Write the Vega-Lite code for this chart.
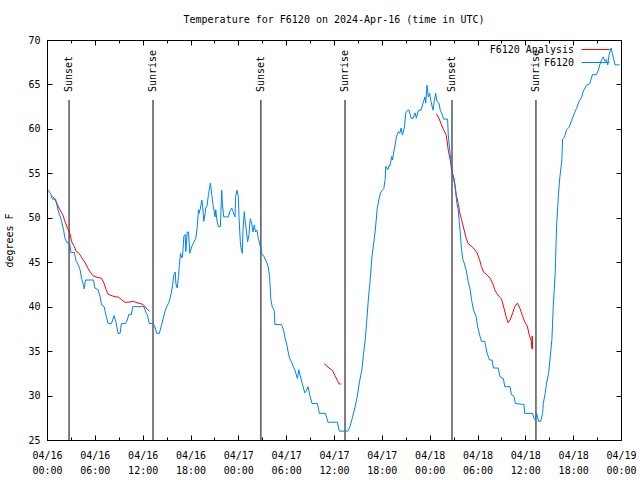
{
  "$schema": "https://vega.github.io/schema/vega-lite/v6.json",
  "width": 574,
  "height": 400,
  "autosize": {"type": "none"},
  "padding": {"left": 47, "top": 40, "right": 19, "bottom": 40},
  "background": "white",
  "config": {
    "view": {"stroke": "black", "strokeWidth": 1},
    "font": "DejaVu Sans Mono",
    "axis": {"labelFont": "DejaVu Sans Mono", "labelFontSize": 10, "labelColor": "black", "tickColor": "black", "domain": false, "grid": false, "titleFont": "DejaVu Sans Mono", "titleFontSize": 10, "titleFontWeight": "normal", "titleColor": "black"}
  },
  "title": {"text": "Temperature for F6120 on 2024-Apr-16 (time in UTC)", "font": "DejaVu Sans Mono", "fontSize": 10, "fontWeight": "normal", "color": "black", "anchor": "middle", "offset": 10},
  "datasets": {
    "sun": [
      {"event": "Sunset", "time": "2024-04-16T02:46:00Z"},
      {"event": "Sunrise", "time": "2024-04-16T13:18:00Z"},
      {"event": "Sunset", "time": "2024-04-17T02:50:00Z"},
      {"event": "Sunrise", "time": "2024-04-17T13:23:00Z"},
      {"event": "Sunset", "time": "2024-04-18T02:48:00Z"},
      {"event": "Sunrise", "time": "2024-04-18T13:20:00Z"}
    ],
    "analysis": [
      {"series": "F6120 Analysis", "seg": "a1", "time": "2024-04-16T00:40:00Z", "temp": 52.4},
      {"series": "F6120 Analysis", "seg": "a1", "time": "2024-04-16T00:55:00Z", "temp": 52.2},
      {"series": "F6120 Analysis", "seg": "a1", "time": "2024-04-16T01:15:00Z", "temp": 51.6},
      {"series": "F6120 Analysis", "seg": "a1", "time": "2024-04-16T01:30:00Z", "temp": 51.1},
      {"series": "F6120 Analysis", "seg": "a1", "time": "2024-04-16T01:45:00Z", "temp": 50.7},
      {"series": "F6120 Analysis", "seg": "a1", "time": "2024-04-16T02:00:00Z", "temp": 50.3},
      {"series": "F6120 Analysis", "seg": "a1", "time": "2024-04-16T02:15:00Z", "temp": 49.6},
      {"series": "F6120 Analysis", "seg": "a1", "time": "2024-04-16T02:35:00Z", "temp": 48.8},
      {"series": "F6120 Analysis", "seg": "a1", "time": "2024-04-16T02:55:00Z", "temp": 48.1},
      {"series": "F6120 Analysis", "seg": "a1", "time": "2024-04-16T03:05:00Z", "temp": 47.3},
      {"series": "F6120 Analysis", "seg": "a1", "time": "2024-04-16T03:25:00Z", "temp": 46.8},
      {"series": "F6120 Analysis", "seg": "a1", "time": "2024-04-16T03:40:00Z", "temp": 46.2},
      {"series": "F6120 Analysis", "seg": "a1", "time": "2024-04-16T03:55:00Z", "temp": 46.1},
      {"series": "F6120 Analysis", "seg": "a1", "time": "2024-04-16T04:10:00Z", "temp": 45.8},
      {"series": "F6120 Analysis", "seg": "a1", "time": "2024-04-16T04:30:00Z", "temp": 45.3},
      {"series": "F6120 Analysis", "seg": "a1", "time": "2024-04-16T04:45:00Z", "temp": 45.0},
      {"series": "F6120 Analysis", "seg": "a1", "time": "2024-04-16T05:05:00Z", "temp": 44.4},
      {"series": "F6120 Analysis", "seg": "a1", "time": "2024-04-16T05:25:00Z", "temp": 43.9},
      {"series": "F6120 Analysis", "seg": "a1", "time": "2024-04-16T05:45:00Z", "temp": 43.5},
      {"series": "F6120 Analysis", "seg": "a1", "time": "2024-04-16T06:15:00Z", "temp": 43.3},
      {"series": "F6120 Analysis", "seg": "a1", "time": "2024-04-16T06:50:00Z", "temp": 43.2},
      {"series": "F6120 Analysis", "seg": "a1", "time": "2024-04-16T07:10:00Z", "temp": 42.6},
      {"series": "F6120 Analysis", "seg": "a1", "time": "2024-04-16T07:25:00Z", "temp": 41.9},
      {"series": "F6120 Analysis", "seg": "a1", "time": "2024-04-16T07:40:00Z", "temp": 41.4},
      {"series": "F6120 Analysis", "seg": "a1", "time": "2024-04-16T08:15:00Z", "temp": 41.2},
      {"series": "F6120 Analysis", "seg": "a1", "time": "2024-04-16T08:40:00Z", "temp": 41.1},
      {"series": "F6120 Analysis", "seg": "a1", "time": "2024-04-16T08:55:00Z", "temp": 41.1},
      {"series": "F6120 Analysis", "seg": "a1", "time": "2024-04-16T09:20:00Z", "temp": 40.8},
      {"series": "F6120 Analysis", "seg": "a1", "time": "2024-04-16T09:45:00Z", "temp": 40.5},
      {"series": "F6120 Analysis", "seg": "a1", "time": "2024-04-16T10:10:00Z", "temp": 40.5},
      {"series": "F6120 Analysis", "seg": "a1", "time": "2024-04-16T10:50:00Z", "temp": 40.6},
      {"series": "F6120 Analysis", "seg": "a1", "time": "2024-04-16T11:25:00Z", "temp": 40.4},
      {"series": "F6120 Analysis", "seg": "a1", "time": "2024-04-16T11:55:00Z", "temp": 40.3},
      {"series": "F6120 Analysis", "seg": "a1", "time": "2024-04-16T12:20:00Z", "temp": 40.0},
      {"series": "F6120 Analysis", "seg": "a1", "time": "2024-04-16T12:35:00Z", "temp": 39.7},
      {"series": "F6120 Analysis", "seg": "a1", "time": "2024-04-16T12:50:00Z", "temp": 39.5},
      {"series": "F6120 Analysis", "seg": "a2", "time": "2024-04-17T10:45:00Z", "temp": 33.6},
      {"series": "F6120 Analysis", "seg": "a2", "time": "2024-04-17T11:15:00Z", "temp": 33.2},
      {"series": "F6120 Analysis", "seg": "a2", "time": "2024-04-17T11:50:00Z", "temp": 32.8},
      {"series": "F6120 Analysis", "seg": "a2", "time": "2024-04-17T12:05:00Z", "temp": 32.3},
      {"series": "F6120 Analysis", "seg": "a2", "time": "2024-04-17T12:25:00Z", "temp": 31.7},
      {"series": "F6120 Analysis", "seg": "a2", "time": "2024-04-17T12:40:00Z", "temp": 31.3},
      {"series": "F6120 Analysis", "seg": "a2", "time": "2024-04-17T12:55:00Z", "temp": 31.3},
      {"series": "F6120 Analysis", "seg": "a3", "time": "2024-04-18T00:50:00Z", "temp": 61.7},
      {"series": "F6120 Analysis", "seg": "a3", "time": "2024-04-18T01:10:00Z", "temp": 61.2},
      {"series": "F6120 Analysis", "seg": "a3", "time": "2024-04-18T01:25:00Z", "temp": 60.6},
      {"series": "F6120 Analysis", "seg": "a3", "time": "2024-04-18T01:45:00Z", "temp": 59.9},
      {"series": "F6120 Analysis", "seg": "a3", "time": "2024-04-18T02:05:00Z", "temp": 59.3},
      {"series": "F6120 Analysis", "seg": "a3", "time": "2024-04-18T02:20:00Z", "temp": 57.6},
      {"series": "F6120 Analysis", "seg": "a3", "time": "2024-04-18T02:35:00Z", "temp": 56.5},
      {"series": "F6120 Analysis", "seg": "a3", "time": "2024-04-18T02:45:00Z", "temp": 55.4},
      {"series": "F6120 Analysis", "seg": "a3", "time": "2024-04-18T03:05:00Z", "temp": 54.3},
      {"series": "F6120 Analysis", "seg": "a3", "time": "2024-04-18T03:20:00Z", "temp": 52.6},
      {"series": "F6120 Analysis", "seg": "a3", "time": "2024-04-18T03:35:00Z", "temp": 51.6},
      {"series": "F6120 Analysis", "seg": "a3", "time": "2024-04-18T03:50:00Z", "temp": 50.3},
      {"series": "F6120 Analysis", "seg": "a3", "time": "2024-04-18T04:00:00Z", "temp": 49.8},
      {"series": "F6120 Analysis", "seg": "a3", "time": "2024-04-18T04:20:00Z", "temp": 48.6},
      {"series": "F6120 Analysis", "seg": "a3", "time": "2024-04-18T04:35:00Z", "temp": 47.7},
      {"series": "F6120 Analysis", "seg": "a3", "time": "2024-04-18T04:50:00Z", "temp": 47.1},
      {"series": "F6120 Analysis", "seg": "a3", "time": "2024-04-18T05:30:00Z", "temp": 46.6},
      {"series": "F6120 Analysis", "seg": "a3", "time": "2024-04-18T05:55:00Z", "temp": 46.1},
      {"series": "F6120 Analysis", "seg": "a3", "time": "2024-04-18T06:15:00Z", "temp": 45.3},
      {"series": "F6120 Analysis", "seg": "a3", "time": "2024-04-18T06:30:00Z", "temp": 44.5},
      {"series": "F6120 Analysis", "seg": "a3", "time": "2024-04-18T06:45:00Z", "temp": 43.9},
      {"series": "F6120 Analysis", "seg": "a3", "time": "2024-04-18T07:10:00Z", "temp": 43.6},
      {"series": "F6120 Analysis", "seg": "a3", "time": "2024-04-18T07:35:00Z", "temp": 43.2},
      {"series": "F6120 Analysis", "seg": "a3", "time": "2024-04-18T07:55:00Z", "temp": 42.6},
      {"series": "F6120 Analysis", "seg": "a3", "time": "2024-04-18T08:10:00Z", "temp": 41.9},
      {"series": "F6120 Analysis", "seg": "a3", "time": "2024-04-18T08:25:00Z", "temp": 41.5},
      {"series": "F6120 Analysis", "seg": "a3", "time": "2024-04-18T08:45:00Z", "temp": 41.1},
      {"series": "F6120 Analysis", "seg": "a3", "time": "2024-04-18T09:00:00Z", "temp": 40.9},
      {"series": "F6120 Analysis", "seg": "a3", "time": "2024-04-18T09:20:00Z", "temp": 39.8},
      {"series": "F6120 Analysis", "seg": "a3", "time": "2024-04-18T09:35:00Z", "temp": 38.9},
      {"series": "F6120 Analysis", "seg": "a3", "time": "2024-04-18T09:50:00Z", "temp": 38.2},
      {"series": "F6120 Analysis", "seg": "a3", "time": "2024-04-18T10:05:00Z", "temp": 38.5},
      {"series": "F6120 Analysis", "seg": "a3", "time": "2024-04-18T10:25:00Z", "temp": 39.3},
      {"series": "F6120 Analysis", "seg": "a3", "time": "2024-04-18T10:40:00Z", "temp": 40.0},
      {"series": "F6120 Analysis", "seg": "a3", "time": "2024-04-18T11:00:00Z", "temp": 40.4},
      {"series": "F6120 Analysis", "seg": "a3", "time": "2024-04-18T11:20:00Z", "temp": 39.8},
      {"series": "F6120 Analysis", "seg": "a3", "time": "2024-04-18T11:40:00Z", "temp": 38.9},
      {"series": "F6120 Analysis", "seg": "a3", "time": "2024-04-18T11:55:00Z", "temp": 38.3},
      {"series": "F6120 Analysis", "seg": "a3", "time": "2024-04-18T12:15:00Z", "temp": 37.8},
      {"series": "F6120 Analysis", "seg": "a3", "time": "2024-04-18T12:30:00Z", "temp": 36.8},
      {"series": "F6120 Analysis", "seg": "a3", "time": "2024-04-18T12:45:00Z", "temp": 36.1},
      {"series": "F6120 Analysis", "seg": "a3", "time": "2024-04-18T12:50:00Z", "temp": 35.3},
      {"series": "F6120 Analysis", "seg": "a3", "time": "2024-04-18T12:52:00Z", "temp": 36.7},
      {"series": "F6120 Analysis", "seg": "a3", "time": "2024-04-18T12:55:00Z", "temp": 35.2}
    ],
    "obs": [
      {"series": "F6120", "time": "2024-04-16T00:10:00Z", "temp": 53.1},
      {"series": "F6120", "time": "2024-04-16T00:30:00Z", "temp": 52.6},
      {"series": "F6120", "time": "2024-04-16T00:40:00Z", "temp": 52.1},
      {"series": "F6120", "time": "2024-04-16T01:05:00Z", "temp": 52.1},
      {"series": "F6120", "time": "2024-04-16T01:15:00Z", "temp": 51.4},
      {"series": "F6120", "time": "2024-04-16T01:30:00Z", "temp": 50.5},
      {"series": "F6120", "time": "2024-04-16T01:40:00Z", "temp": 50.1},
      {"series": "F6120", "time": "2024-04-16T01:50:00Z", "temp": 49.6},
      {"series": "F6120", "time": "2024-04-16T02:05:00Z", "temp": 48.6},
      {"series": "F6120", "time": "2024-04-16T02:15:00Z", "temp": 47.7},
      {"series": "F6120", "time": "2024-04-16T02:30:00Z", "temp": 47.2},
      {"series": "F6120", "time": "2024-04-16T02:50:00Z", "temp": 47.2},
      {"series": "F6120", "time": "2024-04-16T03:00:00Z", "temp": 46.1},
      {"series": "F6120", "time": "2024-04-16T03:25:00Z", "temp": 46.1},
      {"series": "F6120", "time": "2024-04-16T03:40:00Z", "temp": 45.1},
      {"series": "F6120", "time": "2024-04-16T03:55:00Z", "temp": 44.7},
      {"series": "F6120", "time": "2024-04-16T04:10:00Z", "temp": 44.1},
      {"series": "F6120", "time": "2024-04-16T04:20:00Z", "temp": 43.2},
      {"series": "F6120", "time": "2024-04-16T04:35:00Z", "temp": 42.4},
      {"series": "F6120", "time": "2024-04-16T04:40:00Z", "temp": 42.0},
      {"series": "F6120", "time": "2024-04-16T04:50:00Z", "temp": 43.0},
      {"series": "F6120", "time": "2024-04-16T05:50:00Z", "temp": 43.0},
      {"series": "F6120", "time": "2024-04-16T06:00:00Z", "temp": 42.1},
      {"series": "F6120", "time": "2024-04-16T06:25:00Z", "temp": 41.9},
      {"series": "F6120", "time": "2024-04-16T06:40:00Z", "temp": 41.1},
      {"series": "F6120", "time": "2024-04-16T06:50:00Z", "temp": 40.2},
      {"series": "F6120", "time": "2024-04-16T07:10:00Z", "temp": 40.0},
      {"series": "F6120", "time": "2024-04-16T07:20:00Z", "temp": 39.3},
      {"series": "F6120", "time": "2024-04-16T07:40:00Z", "temp": 38.1},
      {"series": "F6120", "time": "2024-04-16T08:05:00Z", "temp": 38.1},
      {"series": "F6120", "time": "2024-04-16T08:25:00Z", "temp": 39.0},
      {"series": "F6120", "time": "2024-04-16T08:40:00Z", "temp": 38.2},
      {"series": "F6120", "time": "2024-04-16T08:55:00Z", "temp": 37.0},
      {"series": "F6120", "time": "2024-04-16T09:10:00Z", "temp": 37.0},
      {"series": "F6120", "time": "2024-04-16T09:20:00Z", "temp": 38.1},
      {"series": "F6120", "time": "2024-04-16T09:50:00Z", "temp": 38.1},
      {"series": "F6120", "time": "2024-04-16T10:05:00Z", "temp": 38.5},
      {"series": "F6120", "time": "2024-04-16T10:15:00Z", "temp": 39.1},
      {"series": "F6120", "time": "2024-04-16T10:35:00Z", "temp": 39.1},
      {"series": "F6120", "time": "2024-04-16T10:45:00Z", "temp": 40.0},
      {"series": "F6120", "time": "2024-04-16T12:10:00Z", "temp": 40.0},
      {"series": "F6120", "time": "2024-04-16T12:25:00Z", "temp": 39.3},
      {"series": "F6120", "time": "2024-04-16T12:35:00Z", "temp": 39.1},
      {"series": "F6120", "time": "2024-04-16T12:50:00Z", "temp": 38.1},
      {"series": "F6120", "time": "2024-04-16T13:20:00Z", "temp": 38.1},
      {"series": "F6120", "time": "2024-04-16T13:35:00Z", "temp": 37.6},
      {"series": "F6120", "time": "2024-04-16T13:45:00Z", "temp": 37.0},
      {"series": "F6120", "time": "2024-04-16T14:05:00Z", "temp": 37.0},
      {"series": "F6120", "time": "2024-04-16T14:20:00Z", "temp": 37.8},
      {"series": "F6120", "time": "2024-04-16T14:35:00Z", "temp": 38.7},
      {"series": "F6120", "time": "2024-04-16T14:50:00Z", "temp": 39.6},
      {"series": "F6120", "time": "2024-04-16T15:05:00Z", "temp": 40.1},
      {"series": "F6120", "time": "2024-04-16T15:20:00Z", "temp": 40.6},
      {"series": "F6120", "time": "2024-04-16T15:35:00Z", "temp": 41.5},
      {"series": "F6120", "time": "2024-04-16T15:45:00Z", "temp": 42.4},
      {"series": "F6120", "time": "2024-04-16T15:55:00Z", "temp": 43.6},
      {"series": "F6120", "time": "2024-04-16T16:05:00Z", "temp": 43.9},
      {"series": "F6120", "time": "2024-04-16T16:10:00Z", "temp": 42.6},
      {"series": "F6120", "time": "2024-04-16T16:20:00Z", "temp": 42.1},
      {"series": "F6120", "time": "2024-04-16T16:30:00Z", "temp": 43.4},
      {"series": "F6120", "time": "2024-04-16T16:35:00Z", "temp": 44.5},
      {"series": "F6120", "time": "2024-04-16T16:45:00Z", "temp": 46.0},
      {"series": "F6120", "time": "2024-04-16T16:55:00Z", "temp": 45.5},
      {"series": "F6120", "time": "2024-04-16T17:00:00Z", "temp": 45.6},
      {"series": "F6120", "time": "2024-04-16T17:10:00Z", "temp": 47.9},
      {"series": "F6120", "time": "2024-04-16T17:20:00Z", "temp": 48.1},
      {"series": "F6120", "time": "2024-04-16T17:25:00Z", "temp": 46.2},
      {"series": "F6120", "time": "2024-04-16T17:35:00Z", "temp": 48.4},
      {"series": "F6120", "time": "2024-04-16T17:45:00Z", "temp": 48.4},
      {"series": "F6120", "time": "2024-04-16T17:55:00Z", "temp": 46.0},
      {"series": "F6120", "time": "2024-04-16T18:10:00Z", "temp": 46.8},
      {"series": "F6120", "time": "2024-04-16T18:20:00Z", "temp": 47.1},
      {"series": "F6120", "time": "2024-04-16T18:40:00Z", "temp": 47.7},
      {"series": "F6120", "time": "2024-04-16T18:50:00Z", "temp": 48.8},
      {"series": "F6120", "time": "2024-04-16T19:00:00Z", "temp": 50.9},
      {"series": "F6120", "time": "2024-04-16T19:05:00Z", "temp": 50.5},
      {"series": "F6120", "time": "2024-04-16T19:15:00Z", "temp": 51.1},
      {"series": "F6120", "time": "2024-04-16T19:25:00Z", "temp": 52.0},
      {"series": "F6120", "time": "2024-04-16T19:30:00Z", "temp": 51.6},
      {"series": "F6120", "time": "2024-04-16T19:40:00Z", "temp": 49.6},
      {"series": "F6120", "time": "2024-04-16T19:50:00Z", "temp": 50.5},
      {"series": "F6120", "time": "2024-04-16T19:55:00Z", "temp": 51.1},
      {"series": "F6120", "time": "2024-04-16T20:05:00Z", "temp": 51.4},
      {"series": "F6120", "time": "2024-04-16T20:15:00Z", "temp": 52.6},
      {"series": "F6120", "time": "2024-04-16T20:25:00Z", "temp": 53.5},
      {"series": "F6120", "time": "2024-04-16T20:30:00Z", "temp": 53.9},
      {"series": "F6120", "time": "2024-04-16T20:40:00Z", "temp": 52.6},
      {"series": "F6120", "time": "2024-04-16T20:50:00Z", "temp": 51.4},
      {"series": "F6120", "time": "2024-04-16T21:05:00Z", "temp": 50.1},
      {"series": "F6120", "time": "2024-04-16T21:10:00Z", "temp": 50.9},
      {"series": "F6120", "time": "2024-04-16T21:20:00Z", "temp": 49.6},
      {"series": "F6120", "time": "2024-04-16T21:30:00Z", "temp": 49.0},
      {"series": "F6120", "time": "2024-04-16T21:45:00Z", "temp": 49.0},
      {"series": "F6120", "time": "2024-04-16T21:55:00Z", "temp": 53.1},
      {"series": "F6120", "time": "2024-04-16T22:00:00Z", "temp": 51.6},
      {"series": "F6120", "time": "2024-04-16T22:10:00Z", "temp": 50.1},
      {"series": "F6120", "time": "2024-04-16T22:45:00Z", "temp": 50.1},
      {"series": "F6120", "time": "2024-04-16T22:55:00Z", "temp": 50.7},
      {"series": "F6120", "time": "2024-04-16T23:10:00Z", "temp": 51.1},
      {"series": "F6120", "time": "2024-04-16T23:20:00Z", "temp": 50.7},
      {"series": "F6120", "time": "2024-04-16T23:35:00Z", "temp": 50.1},
      {"series": "F6120", "time": "2024-04-16T23:40:00Z", "temp": 52.4},
      {"series": "F6120", "time": "2024-04-16T23:50:00Z", "temp": 53.1},
      {"series": "F6120", "time": "2024-04-17T00:00:00Z", "temp": 52.4},
      {"series": "F6120", "time": "2024-04-17T00:05:00Z", "temp": 50.1},
      {"series": "F6120", "time": "2024-04-17T00:15:00Z", "temp": 47.3},
      {"series": "F6120", "time": "2024-04-17T00:20:00Z", "temp": 46.6},
      {"series": "F6120", "time": "2024-04-17T00:30:00Z", "temp": 46.0},
      {"series": "F6120", "time": "2024-04-17T00:35:00Z", "temp": 48.6},
      {"series": "F6120", "time": "2024-04-17T00:45:00Z", "temp": 50.7},
      {"series": "F6120", "time": "2024-04-17T00:50:00Z", "temp": 49.8},
      {"series": "F6120", "time": "2024-04-17T01:00:00Z", "temp": 48.6},
      {"series": "F6120", "time": "2024-04-17T01:10:00Z", "temp": 47.3},
      {"series": "F6120", "time": "2024-04-17T01:20:00Z", "temp": 48.1},
      {"series": "F6120", "time": "2024-04-17T01:30:00Z", "temp": 49.9},
      {"series": "F6120", "time": "2024-04-17T01:40:00Z", "temp": 49.4},
      {"series": "F6120", "time": "2024-04-17T01:50:00Z", "temp": 48.4},
      {"series": "F6120", "time": "2024-04-17T02:00:00Z", "temp": 49.2},
      {"series": "F6120", "time": "2024-04-17T02:10:00Z", "temp": 48.4},
      {"series": "F6120", "time": "2024-04-17T02:20:00Z", "temp": 48.6},
      {"series": "F6120", "time": "2024-04-17T02:30:00Z", "temp": 47.7},
      {"series": "F6120", "time": "2024-04-17T02:45:00Z", "temp": 46.8},
      {"series": "F6120", "time": "2024-04-17T02:55:00Z", "temp": 46.0},
      {"series": "F6120", "time": "2024-04-17T03:15:00Z", "temp": 45.6},
      {"series": "F6120", "time": "2024-04-17T03:30:00Z", "temp": 45.1},
      {"series": "F6120", "time": "2024-04-17T03:45:00Z", "temp": 44.5},
      {"series": "F6120", "time": "2024-04-17T03:55:00Z", "temp": 43.4},
      {"series": "F6120", "time": "2024-04-17T04:05:00Z", "temp": 40.8},
      {"series": "F6120", "time": "2024-04-17T04:15:00Z", "temp": 40.0},
      {"series": "F6120", "time": "2024-04-17T04:30:00Z", "temp": 39.6},
      {"series": "F6120", "time": "2024-04-17T04:35:00Z", "temp": 38.0},
      {"series": "F6120", "time": "2024-04-17T05:25:00Z", "temp": 38.0},
      {"series": "F6120", "time": "2024-04-17T05:40:00Z", "temp": 37.4},
      {"series": "F6120", "time": "2024-04-17T05:50:00Z", "temp": 36.6},
      {"series": "F6120", "time": "2024-04-17T06:05:00Z", "temp": 35.7},
      {"series": "F6120", "time": "2024-04-17T06:15:00Z", "temp": 34.9},
      {"series": "F6120", "time": "2024-04-17T06:25:00Z", "temp": 34.2},
      {"series": "F6120", "time": "2024-04-17T06:40:00Z", "temp": 33.8},
      {"series": "F6120", "time": "2024-04-17T06:55:00Z", "temp": 33.2},
      {"series": "F6120", "time": "2024-04-17T07:05:00Z", "temp": 32.9},
      {"series": "F6120", "time": "2024-04-17T07:25:00Z", "temp": 31.9},
      {"series": "F6120", "time": "2024-04-17T07:35:00Z", "temp": 32.9},
      {"series": "F6120", "time": "2024-04-17T07:45:00Z", "temp": 32.3},
      {"series": "F6120", "time": "2024-04-17T08:00:00Z", "temp": 31.4},
      {"series": "F6120", "time": "2024-04-17T08:20:00Z", "temp": 30.3},
      {"series": "F6120", "time": "2024-04-17T08:35:00Z", "temp": 30.6},
      {"series": "F6120", "time": "2024-04-17T08:45:00Z", "temp": 31.0},
      {"series": "F6120", "time": "2024-04-17T09:00:00Z", "temp": 29.9},
      {"series": "F6120", "time": "2024-04-17T09:15:00Z", "temp": 29.1},
      {"series": "F6120", "time": "2024-04-17T09:55:00Z", "temp": 29.1},
      {"series": "F6120", "time": "2024-04-17T10:10:00Z", "temp": 28.0},
      {"series": "F6120", "time": "2024-04-17T10:55:00Z", "temp": 28.0},
      {"series": "F6120", "time": "2024-04-17T11:15:00Z", "temp": 27.0},
      {"series": "F6120", "time": "2024-04-17T12:25:00Z", "temp": 27.0},
      {"series": "F6120", "time": "2024-04-17T12:40:00Z", "temp": 26.0},
      {"series": "F6120", "time": "2024-04-17T13:45:00Z", "temp": 26.0},
      {"series": "F6120", "time": "2024-04-17T14:00:00Z", "temp": 26.5},
      {"series": "F6120", "time": "2024-04-17T14:20:00Z", "temp": 27.6},
      {"series": "F6120", "time": "2024-04-17T14:40:00Z", "temp": 28.8},
      {"series": "F6120", "time": "2024-04-17T14:55:00Z", "temp": 29.9},
      {"series": "F6120", "time": "2024-04-17T15:10:00Z", "temp": 31.4},
      {"series": "F6120", "time": "2024-04-17T15:30:00Z", "temp": 32.9},
      {"series": "F6120", "time": "2024-04-17T15:40:00Z", "temp": 34.4},
      {"series": "F6120", "time": "2024-04-17T15:55:00Z", "temp": 36.3},
      {"series": "F6120", "time": "2024-04-17T16:05:00Z", "temp": 38.1},
      {"series": "F6120", "time": "2024-04-17T16:20:00Z", "temp": 41.1},
      {"series": "F6120", "time": "2024-04-17T16:30:00Z", "temp": 42.6},
      {"series": "F6120", "time": "2024-04-17T16:45:00Z", "temp": 45.5},
      {"series": "F6120", "time": "2024-04-17T17:10:00Z", "temp": 48.5},
      {"series": "F6120", "time": "2024-04-17T17:25:00Z", "temp": 51.0},
      {"series": "F6120", "time": "2024-04-17T17:40:00Z", "temp": 52.2},
      {"series": "F6120", "time": "2024-04-17T17:50:00Z", "temp": 52.8},
      {"series": "F6120", "time": "2024-04-17T18:05:00Z", "temp": 53.1},
      {"series": "F6120", "time": "2024-04-17T18:15:00Z", "temp": 53.3},
      {"series": "F6120", "time": "2024-04-17T18:25:00Z", "temp": 54.3},
      {"series": "F6120", "time": "2024-04-17T18:30:00Z", "temp": 55.8},
      {"series": "F6120", "time": "2024-04-17T18:45:00Z", "temp": 55.4},
      {"series": "F6120", "time": "2024-04-17T18:55:00Z", "temp": 55.9},
      {"series": "F6120", "time": "2024-04-17T19:00:00Z", "temp": 55.8},
      {"series": "F6120", "time": "2024-04-17T19:15:00Z", "temp": 56.9},
      {"series": "F6120", "time": "2024-04-17T19:20:00Z", "temp": 56.5},
      {"series": "F6120", "time": "2024-04-17T19:30:00Z", "temp": 57.4},
      {"series": "F6120", "time": "2024-04-17T19:40:00Z", "temp": 58.2},
      {"series": "F6120", "time": "2024-04-17T19:50:00Z", "temp": 59.1},
      {"series": "F6120", "time": "2024-04-17T20:05:00Z", "temp": 59.7},
      {"series": "F6120", "time": "2024-04-17T20:15:00Z", "temp": 59.5},
      {"series": "F6120", "time": "2024-04-17T20:25:00Z", "temp": 60.1},
      {"series": "F6120", "time": "2024-04-17T20:35:00Z", "temp": 59.3},
      {"series": "F6120", "time": "2024-04-17T20:50:00Z", "temp": 60.2},
      {"series": "F6120", "time": "2024-04-17T21:00:00Z", "temp": 61.8},
      {"series": "F6120", "time": "2024-04-17T21:15:00Z", "temp": 62.1},
      {"series": "F6120", "time": "2024-04-17T21:25:00Z", "temp": 62.1},
      {"series": "F6120", "time": "2024-04-17T21:40:00Z", "temp": 61.2},
      {"series": "F6120", "time": "2024-04-17T21:55:00Z", "temp": 61.2},
      {"series": "F6120", "time": "2024-04-17T22:10:00Z", "temp": 61.8},
      {"series": "F6120", "time": "2024-04-17T22:20:00Z", "temp": 61.2},
      {"series": "F6120", "time": "2024-04-17T22:35:00Z", "temp": 62.1},
      {"series": "F6120", "time": "2024-04-17T22:55:00Z", "temp": 62.1},
      {"series": "F6120", "time": "2024-04-17T23:10:00Z", "temp": 62.9},
      {"series": "F6120", "time": "2024-04-17T23:25:00Z", "temp": 63.6},
      {"series": "F6120", "time": "2024-04-17T23:30:00Z", "temp": 62.9},
      {"series": "F6120", "time": "2024-04-17T23:40:00Z", "temp": 64.9},
      {"series": "F6120", "time": "2024-04-17T23:50:00Z", "temp": 63.6},
      {"series": "F6120", "time": "2024-04-18T00:00:00Z", "temp": 64.0},
      {"series": "F6120", "time": "2024-04-18T00:10:00Z", "temp": 63.1},
      {"series": "F6120", "time": "2024-04-18T00:25:00Z", "temp": 62.1},
      {"series": "F6120", "time": "2024-04-18T00:35:00Z", "temp": 63.1},
      {"series": "F6120", "time": "2024-04-18T00:45:00Z", "temp": 64.0},
      {"series": "F6120", "time": "2024-04-18T00:55:00Z", "temp": 63.1},
      {"series": "F6120", "time": "2024-04-18T01:10:00Z", "temp": 62.9},
      {"series": "F6120", "time": "2024-04-18T01:20:00Z", "temp": 62.1},
      {"series": "F6120", "time": "2024-04-18T01:30:00Z", "temp": 61.8},
      {"series": "F6120", "time": "2024-04-18T01:45:00Z", "temp": 61.1},
      {"series": "F6120", "time": "2024-04-18T02:15:00Z", "temp": 61.1},
      {"series": "F6120", "time": "2024-04-18T02:20:00Z", "temp": 59.3},
      {"series": "F6120", "time": "2024-04-18T02:35:00Z", "temp": 57.0},
      {"series": "F6120", "time": "2024-04-18T02:45:00Z", "temp": 56.0},
      {"series": "F6120", "time": "2024-04-18T02:55:00Z", "temp": 54.6},
      {"series": "F6120", "time": "2024-04-18T03:10:00Z", "temp": 53.7},
      {"series": "F6120", "time": "2024-04-18T03:25:00Z", "temp": 51.6},
      {"series": "F6120", "time": "2024-04-18T03:35:00Z", "temp": 50.9},
      {"series": "F6120", "time": "2024-04-18T03:50:00Z", "temp": 48.3},
      {"series": "F6120", "time": "2024-04-18T04:00:00Z", "temp": 46.4},
      {"series": "F6120", "time": "2024-04-18T04:10:00Z", "temp": 45.3},
      {"series": "F6120", "time": "2024-04-18T04:20:00Z", "temp": 44.9},
      {"series": "F6120", "time": "2024-04-18T04:35:00Z", "temp": 44.1},
      {"series": "F6120", "time": "2024-04-18T04:50:00Z", "temp": 42.8},
      {"series": "F6120", "time": "2024-04-18T05:05:00Z", "temp": 41.9},
      {"series": "F6120", "time": "2024-04-18T05:15:00Z", "temp": 40.8},
      {"series": "F6120", "time": "2024-04-18T05:30:00Z", "temp": 39.6},
      {"series": "F6120", "time": "2024-04-18T05:50:00Z", "temp": 38.9},
      {"series": "F6120", "time": "2024-04-18T06:00:00Z", "temp": 37.8},
      {"series": "F6120", "time": "2024-04-18T06:20:00Z", "temp": 36.6},
      {"series": "F6120", "time": "2024-04-18T06:30:00Z", "temp": 36.1},
      {"series": "F6120", "time": "2024-04-18T06:55:00Z", "temp": 36.1},
      {"series": "F6120", "time": "2024-04-18T07:10:00Z", "temp": 34.9},
      {"series": "F6120", "time": "2024-04-18T07:30:00Z", "temp": 34.0},
      {"series": "F6120", "time": "2024-04-18T07:50:00Z", "temp": 34.0},
      {"series": "F6120", "time": "2024-04-18T08:00:00Z", "temp": 33.1},
      {"series": "F6120", "time": "2024-04-18T08:35:00Z", "temp": 33.1},
      {"series": "F6120", "time": "2024-04-18T08:50:00Z", "temp": 32.1},
      {"series": "F6120", "time": "2024-04-18T09:15:00Z", "temp": 31.9},
      {"series": "F6120", "time": "2024-04-18T09:25:00Z", "temp": 31.0},
      {"series": "F6120", "time": "2024-04-18T10:05:00Z", "temp": 31.0},
      {"series": "F6120", "time": "2024-04-18T10:15:00Z", "temp": 30.1},
      {"series": "F6120", "time": "2024-04-18T10:35:00Z", "temp": 29.9},
      {"series": "F6120", "time": "2024-04-18T10:45:00Z", "temp": 29.1},
      {"series": "F6120", "time": "2024-04-18T11:50:00Z", "temp": 29.0},
      {"series": "F6120", "time": "2024-04-18T11:55:00Z", "temp": 28.0},
      {"series": "F6120", "time": "2024-04-18T12:55:00Z", "temp": 28.0},
      {"series": "F6120", "time": "2024-04-18T13:05:00Z", "temp": 27.4},
      {"series": "F6120", "time": "2024-04-18T13:15:00Z", "temp": 27.3},
      {"series": "F6120", "time": "2024-04-18T13:25:00Z", "temp": 28.0},
      {"series": "F6120", "time": "2024-04-18T13:40:00Z", "temp": 27.1},
      {"series": "F6120", "time": "2024-04-18T13:55:00Z", "temp": 27.1},
      {"series": "F6120", "time": "2024-04-18T14:10:00Z", "temp": 28.0},
      {"series": "F6120", "time": "2024-04-18T14:15:00Z", "temp": 29.1},
      {"series": "F6120", "time": "2024-04-18T14:30:00Z", "temp": 30.3},
      {"series": "F6120", "time": "2024-04-18T14:40:00Z", "temp": 31.4},
      {"series": "F6120", "time": "2024-04-18T14:55:00Z", "temp": 32.5},
      {"series": "F6120", "time": "2024-04-18T15:05:00Z", "temp": 34.0},
      {"series": "F6120", "time": "2024-04-18T15:20:00Z", "temp": 36.3},
      {"series": "F6120", "time": "2024-04-18T15:30:00Z", "temp": 40.0},
      {"series": "F6120", "time": "2024-04-18T15:45:00Z", "temp": 43.8},
      {"series": "F6120", "time": "2024-04-18T15:55:00Z", "temp": 49.0},
      {"series": "F6120", "time": "2024-04-18T16:10:00Z", "temp": 52.8},
      {"series": "F6120", "time": "2024-04-18T16:20:00Z", "temp": 54.6},
      {"series": "F6120", "time": "2024-04-18T16:35:00Z", "temp": 56.5},
      {"series": "F6120", "time": "2024-04-18T16:40:00Z", "temp": 58.8},
      {"series": "F6120", "time": "2024-04-18T16:55:00Z", "temp": 59.1},
      {"series": "F6120", "time": "2024-04-18T17:10:00Z", "temp": 59.9},
      {"series": "F6120", "time": "2024-04-18T17:30:00Z", "temp": 60.2},
      {"series": "F6120", "time": "2024-04-18T17:50:00Z", "temp": 61.0},
      {"series": "F6120", "time": "2024-04-18T18:10:00Z", "temp": 61.8},
      {"series": "F6120", "time": "2024-04-18T18:25:00Z", "temp": 62.3},
      {"series": "F6120", "time": "2024-04-18T18:45:00Z", "temp": 63.1},
      {"series": "F6120", "time": "2024-04-18T19:05:00Z", "temp": 63.6},
      {"series": "F6120", "time": "2024-04-18T19:15:00Z", "temp": 64.2},
      {"series": "F6120", "time": "2024-04-18T19:40:00Z", "temp": 64.9},
      {"series": "F6120", "time": "2024-04-18T20:05:00Z", "temp": 65.1},
      {"series": "F6120", "time": "2024-04-18T20:25:00Z", "temp": 66.1},
      {"series": "F6120", "time": "2024-04-18T20:55:00Z", "temp": 66.1},
      {"series": "F6120", "time": "2024-04-18T21:10:00Z", "temp": 66.6},
      {"series": "F6120", "time": "2024-04-18T21:20:00Z", "temp": 67.2},
      {"series": "F6120", "time": "2024-04-18T21:35:00Z", "temp": 67.8},
      {"series": "F6120", "time": "2024-04-18T21:45:00Z", "temp": 68.1},
      {"series": "F6120", "time": "2024-04-18T22:00:00Z", "temp": 67.6},
      {"series": "F6120", "time": "2024-04-18T22:10:00Z", "temp": 67.8},
      {"series": "F6120", "time": "2024-04-18T22:20:00Z", "temp": 67.2},
      {"series": "F6120", "time": "2024-04-18T22:30:00Z", "temp": 68.3},
      {"series": "F6120", "time": "2024-04-18T22:45:00Z", "temp": 69.1},
      {"series": "F6120", "time": "2024-04-18T22:55:00Z", "temp": 68.5},
      {"series": "F6120", "time": "2024-04-18T23:15:00Z", "temp": 67.2},
      {"series": "F6120", "time": "2024-04-18T23:50:00Z", "temp": 67.2}
    ]
  },
  "layer": [
    {
      "data": {"name": "sun"},
      "mark": {"type": "rule", "color": "black", "strokeWidth": 1},
      "encoding": {
        "x": {"field": "time", "type": "temporal",
              "scale": {"type": "utc", "domain": [{"year": 2024, "month": 4, "date": 16, "hours": 0, "utc": true}, {"year": 2024, "month": 4, "date": 19, "hours": 0, "utc": true}]},
              "axis": {"orient": "top", "title": null, "labels": false, "tickCount": 12, "tickSize": -5}},
        "y": {"datum": 25, "type": "quantitative", "axis": {"orient": "right", "title": null, "labels": false, "values": [25, 30, 35, 40, 45, 50, 55, 60, 65, 70], "tickSize": -5}},
        "y2": {"datum": 63.25}
      }
    },
    {
      "data": {"name": "sun"},
      "mark": {"type": "text", "angle": 270, "align": "left", "baseline": "middle", "font": "DejaVu Sans Mono", "fontSize": 10, "color": "black"},
      "encoding": {
        "x": {"field": "time", "type": "temporal", "axis": {"orient": "top", "title": null, "labels": false, "tickCount": 36, "tickSize": -3}},
        "y": {"datum": 64.15, "type": "quantitative", "axis": null},
        "text": {"field": "event"}
      }
    },
    {
      "data": {"name": "analysis"},
      "mark": {"type": "line", "strokeWidth": 1},
      "encoding": {
        "x": {"field": "time", "type": "temporal", "axis": {"orient": "bottom", "title": null, "labels": false, "tickCount": 36, "tickSize": -3}},
        "y": {"field": "temp", "type": "quantitative", "scale": {"domain": [25, 70], "nice": false, "zero": false}, "axis": null},
        "color": {"field": "series", "type": "nominal",
                  "scale": {"domain": ["F6120 Analysis", "F6120"], "range": ["#ff0000", "#0080ff"]},
                  "legend": {"orient": "none", "legendX": 541, "legendY": 2, "title": null, "symbolType": "M-2,0H2", "symbolSize": 196, "symbolStrokeWidth": 1,
                             "labelAlign": "right", "labelOffset": -29, "labelFont": "DejaVu Sans Mono", "labelFontSize": 10, "labelColor": "black", "rowPadding": 0, "padding": 0}},
        "detail": {"field": "seg"}
      }
    },
    {
      "data": {"name": "obs"},
      "mark": {"type": "line", "strokeWidth": 1},
      "encoding": {
        "x": {"field": "time", "type": "temporal",
              "axis": {"orient": "bottom", "title": null, "tickCount": 12, "tickSize": -5,
                       "labelExpr": "[utcFormat(datum.value, '%m/%d'), utcFormat(datum.value, '%H:%M')]",
                       "labelPadding": 15, "labelFlush": false, "labelOverlap": false, "labelLineHeight": 15, "labelBaseline": "top"}},
        "y": {"field": "temp", "type": "quantitative",
              "axis": {"orient": "left", "title": "degrees F", "values": [25, 30, 35, 40, 45, 50, 55, 60, 65, 70], "tickSize": -5, "labelPadding": 12, "titlePadding": 13}},
        "color": {"field": "series", "type": "nominal"}
      }
    }
  ],
  "resolve": {"axis": {"x": "independent", "y": "independent"}}
}
